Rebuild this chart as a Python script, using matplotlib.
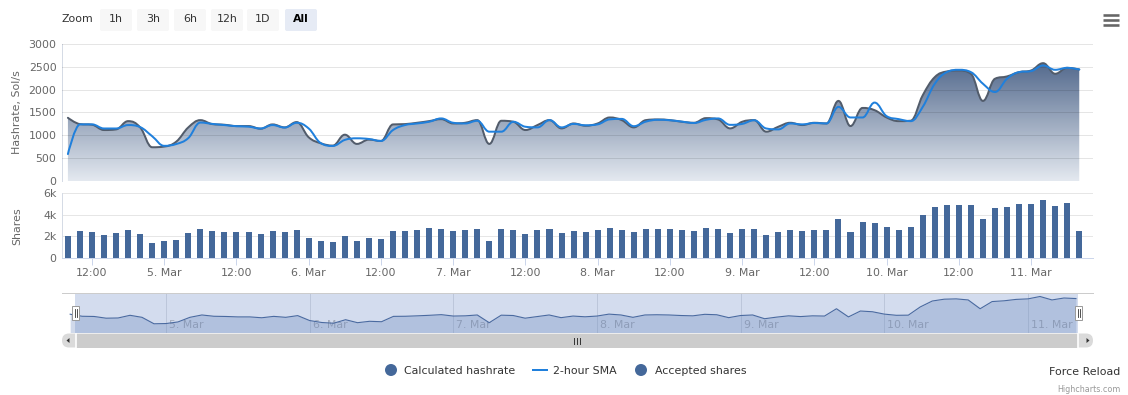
import numpy as np
import pandas as pd
import matplotlib
matplotlib.use("Agg")
import matplotlib.pyplot as plt
import matplotlib.dates as mdates
import matplotlib.transforms as mtransforms
from matplotlib.path import Path
from matplotlib.patches import PathPatch, FancyBboxPatch, Rectangle, Circle, Polygon
from matplotlib.ticker import FuncFormatter

plt.rcParams['font.family'] = ['DejaVu Sans']

W, H = 1128, 395
PX = 0.72  # points per pixel at dpi 100

# ---- data ----
times = pd.date_range('2018-03-04 08:00', periods=85, freq='2h')

hashrate = [
    1384, 1246, 1232, 1116, 1130, 1311, 1174, 739, 754, 862, 1174, 1333, 1246, 1232, 1203, 1203, 1145, 1239, 1174, 1290, 957, 826,
    775, 1014, 812, 906, 877, 1239, 1246, 1275, 1311, 1355, 1260, 1275, 1333, 812, 1319, 1297, 1116, 1225, 1333, 1152,
    1260, 1210, 1260, 1391, 1333, 1174, 1333, 1348, 1333, 1297, 1275, 1377, 1348, 1152, 1297, 1333, 1080, 1188, 1275, 1225, 1275,
    1260, 1754, 1203, 1600, 1551, 1391, 1311, 1320, 1877, 2275, 2398, 2420, 2348, 1754, 2239, 2290, 2384, 2420, 2580, 2348, 2478, 2442,
]

sma_2h = [
    590, 1240, 1240, 1150, 1150, 1225, 1180, 980, 770, 810, 940, 1280, 1250, 1225, 1200, 1190, 1150, 1225, 1170, 1275, 1150, 830,
    768, 900, 935, 920, 877, 1116, 1225, 1260, 1297, 1370, 1275, 1260, 1319, 1080, 1080, 1297, 1188, 1174, 1333, 1174,
    1250, 1220, 1240, 1350, 1360, 1200, 1300, 1340, 1330, 1300, 1270, 1340, 1370, 1230, 1250, 1330, 1150, 1130, 1260, 1240, 1270,
    1260, 1623, 1391, 1391, 1717, 1420, 1355, 1311, 1623, 2130, 2384, 2435, 2384, 2130, 1949, 2239, 2384, 2406, 2529, 2435, 2478, 2442,
]

shares = [
    2060, 2520, 2430, 2150, 2340, 2620, 2250, 1420, 1600, 1690, 2340, 2710, 2520, 2430, 2430, 2430, 2250, 2520, 2430, 2620, 1880, 1600,
    1510, 2060, 1600, 1880, 1780, 2520, 2520, 2620, 2800, 2710, 2520, 2620, 2710, 1600, 2710, 2620, 2250, 2620, 2710, 2340,
    2520, 2430, 2620, 2800, 2620, 2430, 2710, 2710, 2710, 2620, 2520, 2800, 2710, 2340, 2710, 2710, 2150, 2430, 2620, 2520, 2620,
    2620, 3630, 2430, 3350, 3260, 2890, 2620, 2890, 4000, 4740, 4920, 4920, 4920, 3630, 4650, 4740, 5020, 5020, 5380, 4830, 5110, 2520,
]

hash_ticks = [0, 500, 1000, 1500, 2000, 2500, 3000]
share_ticks = [0, 2000, 4000, 6000]
share_tick_labels = ['0', '2k', '4k', '6k']
zoom_buttons = ['1h', '3h', '6h', '12h', '1D', 'All']
legend_labels = ['Calculated hashrate', '2-hour SMA', 'Accepted shares']

HASH_LINE = '#525c6b'
SMA_COLOR = '#2080dc'
BAR_COLOR = '#44689a'
AXIS_GRAY = '#666666'


def fbox(x0, y0, x1, y1):
    return [x0 / W, 1 - y1 / H, (x1 - x0) / W, (y1 - y0) / H]


def spline_path(xs, ys):
    # Highcharts style spline (smoothing 1.5)
    sm, den = 1.5, 2.5
    n = len(xs)
    lc = [None] * n
    rc = [None] * n
    for i in range(1, n - 1):
        px, py = xs[i], ys[i]
        lx, ly = xs[i - 1], ys[i - 1]
        nx, ny = xs[i + 1], ys[i + 1]
        lcx, lcy = (sm * px + lx) / den, (sm * py + ly) / den
        rcx, rcy = (sm * px + nx) / den, (sm * py + ny) / den
        if rcx != lcx:
            corr = (rcy - lcy) * (rcx - px) / (rcx - lcx) + py - rcy
            lcy += corr
            rcy += corr
        if lcy > ly and lcy > py:
            lcy = max(ly, py); rcy = 2 * py - lcy
        elif lcy < ly and lcy < py:
            lcy = min(ly, py); rcy = 2 * py - lcy
        if rcy > ny and rcy > py:
            rcy = max(ny, py); lcy = 2 * py - rcy
        elif rcy < ny and rcy < py:
            rcy = min(ny, py); lcy = 2 * py - rcy
        lc[i] = (lcx, lcy)
        rc[i] = (rcx, rcy)
    verts = [(xs[0], ys[0])]
    codes = [Path.MOVETO]
    for i in range(1, n):
        verts += [rc[i - 1] or (xs[i - 1], ys[i - 1]), lc[i] or (xs[i], ys[i]), (xs[i], ys[i])]
        codes += [Path.CURVE4] * 3
    return verts, codes


x = mdates.date2num(times)
x_left = mdates.date2num(pd.Timestamp('2018-03-04 07:01'))
x_right = mdates.date2num(pd.Timestamp('2018-03-11 10:17'))


def fmt_time(v, pos):
    d = mdates.num2date(v)
    if d.hour == 0:
        return f"{d.day}. {d:%b}"
    return d.strftime('%H:%M')


fig = plt.figure(figsize=(W / 100, H / 100), dpi=100)

# ---- hashrate panel ----
ax1 = fig.add_axes(fbox(62, 44, 1093, 181))
verts, codes = spline_path(list(x), list(hashrate))
fill_path = Path(verts + [(x[-1], 0), (x[0], 0), (x[0], hashrate[0])],
                 codes + [Path.LINETO, Path.LINETO, Path.CLOSEPOLY])
clip = PathPatch(fill_path, facecolor='none', edgecolor='none')
ax1.add_patch(clip)
top_c = np.array([60, 85, 125]) / 255
bot_c = np.array([228, 233, 240]) / 255
t = np.linspace(0, 1, 256)[:, None]
grad = (top_c[None, :] * (1 - t) + bot_c[None, :] * t)[:, None, :]
im = ax1.imshow(grad, extent=[x_left, x_right, 0, 3000], aspect='auto',
                origin='upper', zorder=1, interpolation='bilinear')
im.set_clip_path(clip)
ax1.add_patch(PathPatch(Path(verts, codes), fill=False, edgecolor=HASH_LINE,
                        lw=2 * PX, zorder=3, capstyle='round', joinstyle='round'))
sv, sc = spline_path(list(x), list(sma_2h))
ax1.add_patch(PathPatch(Path(sv, sc), fill=False, edgecolor=SMA_COLOR,
                        lw=2 * PX, zorder=4, capstyle='round', joinstyle='round'))
ax1.set_xlim(x_left, x_right)
ax1.set_ylim(0, 3000)
ax1.set_yticks(hash_ticks)
ax1.set_axisbelow(False)
ax1.grid(axis='y', color='black', alpha=0.1, lw=1 * PX)
ax1.set_xticks([])

# ---- shares panel ----
ax2 = fig.add_axes(fbox(62, 193, 1093, 258))
ax2.bar(x, shares, width=1 / 24, color=BAR_COLOR, zorder=2)
ax2.set_xlim(x_left, x_right)
ax2.set_ylim(0, 6000)
ax2.set_yticks(share_ticks)
ax2.set_yticklabels(share_tick_labels)
ax2.set_axisbelow(True)
ax2.grid(axis='y', color='#e6e6e6', alpha=1, lw=1 * PX)
ax2.xaxis.set_major_locator(mdates.HourLocator(byhour=[0, 12]))
ax2.xaxis.set_major_formatter(FuncFormatter(fmt_time))

for ax in (ax1, ax2):
    for s in ('top', 'right', 'bottom'):
        ax.spines[s].set_visible(False)
    ax.spines['left'].set_color('#d5dbe5')
    ax.spines['left'].set_linewidth(1 * PX)
    ax.tick_params(axis='y', length=0, pad=4, labelsize=11 * PX, labelcolor=AXIS_GRAY)
    ax.set_facecolor('none')
ax2.spines['bottom'].set_visible(True)
ax2.spines['bottom'].set_color('#ccd6eb')
ax2.spines['bottom'].set_linewidth(1 * PX)
ax2.tick_params(axis='x', length=7 * PX, width=1 * PX, color='#ccd6eb', pad=2,
                labelsize=11 * PX, labelcolor=AXIS_GRAY)

fig.text(17 / W, 1 - 112 / H, 'Hashrate, Sol/s', rotation=90, ha='center', va='center',
         fontsize=11 * PX, color=AXIS_GRAY)
fig.text(17 / W, 1 - 226 / H, 'Shares', rotation=90, ha='center', va='center',
         fontsize=11 * PX, color=AXIS_GRAY)

# ---- navigator ----
nav = fig.add_axes(fbox(62, 292.5, 1093, 332.5))
n_left = mdates.date2num(pd.Timestamp('2018-03-04 06:38'))
n_right = mdates.date2num(pd.Timestamp('2018-03-11 10:51'))
nav.set_xlim(n_left, n_right)
nav.set_ylim(150, 2850)
nav.add_patch(Rectangle(((75 - 62) / 1031, 0), (1078 - 75) / 1031, 1, transform=nav.transAxes,
                        facecolor='#d3dcee', edgecolor='none', zorder=0.2))
days = pd.date_range('2018-03-05', '2018-03-11', freq='D')
lbl_tr = mtransforms.offset_copy(nav.get_xaxis_transform(), fig, x=3, units='dots')
for d in days:
    dn = mdates.date2num(d)
    nav.axvline(dn, color='#bcc6da', lw=1 * PX, zorder=0.5)
    nav.text(dn, 0.2, f"{d.day}. {d:%b}", transform=lbl_tr, ha='left', va='center',
             fontsize=11 * PX, color='#a0a8b8', zorder=0.6)
nav.fill_between(x, hashrate, 150, color='#6584bb', alpha=0.3, lw=0, zorder=1)
nav.plot(x, hashrate, color='#4a6aa0', lw=0.8, zorder=2)
nav.set_xticks([])
nav.set_yticks([])
for s in ('left', 'right', 'bottom'):
    nav.spines[s].set_visible(False)
nav.spines['top'].set_color('#cccccc')
nav.spines['top'].set_linewidth(1 * PX)
nav.set_facecolor('none')

# ---- overlay in pixel coordinates ----
ov = fig.add_axes([0, 0, 1, 1])
ov.set_xlim(0, W)
ov.set_ylim(H, 0)
ov.axis('off')

# scrollbar
ov.add_patch(FancyBboxPatch((62, 333.5), 1031, 14, boxstyle='round,pad=0,rounding_size=7',
                            facecolor='#dadada', edgecolor='none'))
ov.add_patch(Rectangle((76, 333.5), 1002, 14, facecolor='#cccccc', edgecolor='none'))
ov.plot([76, 76], [333.5, 347.5], color='white', lw=1.2)
ov.plot([1078, 1078], [333.5, 347.5], color='white', lw=1.2)
ov.add_patch(Polygon([[66.5, 340.5], [69.5, 338], [69.5, 343]], closed=True, facecolor='#333333', edgecolor='none'))
ov.add_patch(Polygon([[1089.5, 340.5], [1086.5, 338], [1086.5, 343]], closed=True, facecolor='#333333', edgecolor='none'))
for gx in (573.5, 576.5, 579.5):
    ov.plot([gx, gx], [337.5, 343.5], color='#333333', lw=0.7)

# navigator handles
for hx in (72, 1075):
    ov.add_patch(Rectangle((hx, 306), 7, 14, facecolor='white', edgecolor='#999999', lw=0.7))
    for lx in (hx + 2.5, hx + 4.5):
        ov.plot([lx, lx], [309, 317], color='#333333', lw=0.6)

# range selector
ov.text(62, 19.5, 'Zoom', ha='left', va='center', fontsize=11 * PX, color='#333333')
btn_x = [100, 137, 174, 211, 247, 285]
btn_w = [32, 32, 32, 32, 32, 32]
for lbl, bx, bw in zip(zoom_buttons, btn_x, btn_w):
    selected = lbl == 'All'
    ov.add_patch(FancyBboxPatch((bx, 9), bw, 22, boxstyle='round,pad=0,rounding_size=2',
                                facecolor='#e6ebf5' if selected else '#f7f7f7', edgecolor='none'))
    ov.text(bx + bw / 2, 19.5, lbl, ha='center', va='center', fontsize=11 * PX,
            color='#000000' if selected else '#333333',
            fontweight='bold' if selected else 'normal')

# menu icon
for my in (15, 20, 25):
    ov.plot([1103, 1119], [my, my], color='#666666', lw=2.6 * PX, solid_capstyle='butt')

# legend
ov.add_patch(Circle((391, 370), 6, facecolor=BAR_COLOR, edgecolor='none'))
ov.text(404, 370.5, legend_labels[0], ha='left', va='center', fontsize=11 * PX, color='#333333')
ov.plot([533, 547], [370, 370], color=SMA_COLOR, lw=2 * PX)
ov.text(553, 370.5, legend_labels[1], ha='left', va='center', fontsize=11 * PX, color='#333333')
ov.add_patch(Circle((641, 370), 6, facecolor=BAR_COLOR, edgecolor='none'))
ov.text(655, 370.5, legend_labels[2], ha='left', va='center', fontsize=11 * PX, color='#333333')

ov.text(1120, 372, 'Force Reload', ha='right', va='center', fontsize=11 * PX, color='#333333')
ov.text(1121, 389, 'Highcharts.com', ha='right', va='center', fontsize=8 * PX, color='#999999')

fig.savefig('out.png', dpi=100)
